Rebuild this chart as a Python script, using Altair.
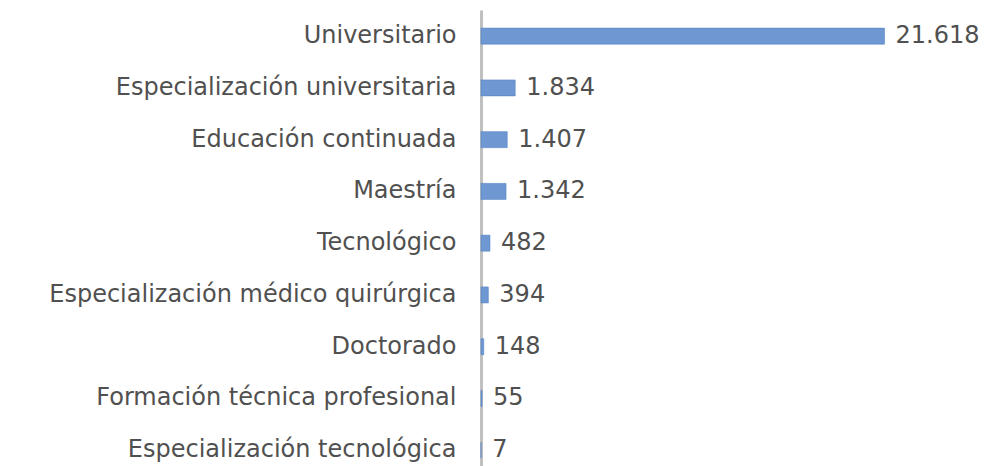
import altair as alt
import pandas as pd

categories = [
    "Universitario",
    "Especialización universitaria",
    "Educación continuada",
    "Maestría",
    "Tecnológico",
    "Especialización médico quirúrgica",
    "Doctorado",
    "Formación técnica profesional",
    "Especialización tecnológica",
]
values = [21618, 1834, 1407, 1342, 482, 394, 148, 55, 7]
value_labels = ["21.618", "1.834", "1.407", "1.342", "482", "394", "148", "55", "7"]

df = pd.DataFrame({"cat": categories, "val": values, "lab": value_labels})

FONT = "DejaVu Sans"
TXT = "#505050"

y_enc = alt.Y(
    "cat:N",
    sort=categories,
    title=None,
    scale=alt.Scale(paddingInner=0.69, paddingOuter=0.25, align=0.7),
    axis=alt.Axis(
        labelFont=FONT,
        labelFontSize=24,
        labelColor=TXT,
        labelPadding=25,
        ticks=False,
        domainColor="#c0c0c0",
        domainWidth=3,
        labelLimit=600,
    ),
)
x_enc = alt.X(
    "val:Q",
    scale=alt.Scale(domain=[0, 27000], nice=False),
    axis=None,
)

bars = alt.Chart(df).mark_bar(color="#6f98d3", stroke="#4a7cc3", strokeWidth=0.5).encode(
    x=x_enc, y=y_enc
)
labels = alt.Chart(df).mark_text(
    align="left", baseline="middle", dx=11, font=FONT, fontSize=24, color=TXT
).encode(x=x_enc, y=alt.Y("cat:N", sort=categories), text="lab:N")

chart = (
    alt.layer(bars, labels)
    .properties(
        width=504,
        height=456,
        padding={"left": 481, "top": 10, "right": 0, "bottom": 0},
        autosize=alt.AutoSizeParams(type="none"),
        background="white",
    )
    .configure_view(strokeWidth=0)
)

chart.save("out.html", embed_options={"renderer": "svg", "actions": False})
